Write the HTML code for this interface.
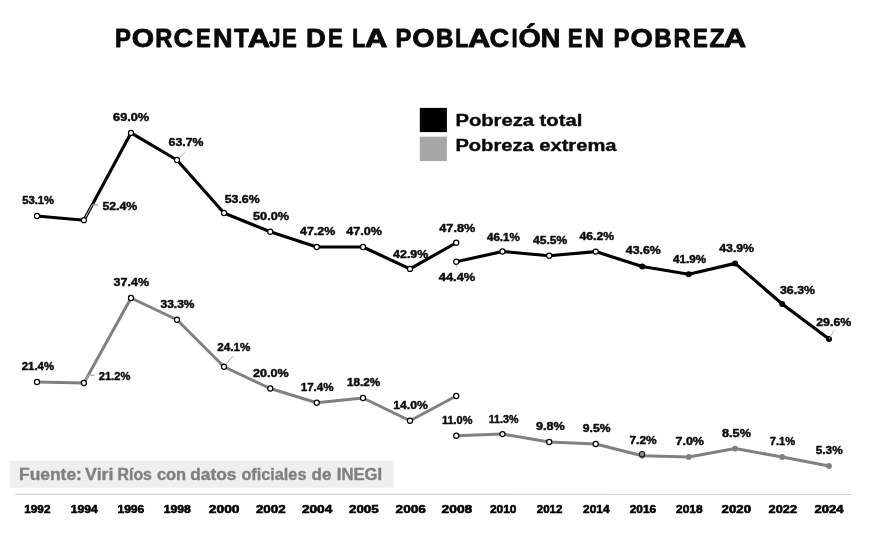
<!DOCTYPE html>
<html lang="es">
<head>
<meta charset="utf-8">
<title>Porcentaje de la población en pobreza</title>
<style>
html,body{margin:0;padding:0;background:#fff;}
body{width:874px;height:536px;overflow:hidden;font-family:"Liberation Sans",sans-serif;}
svg{display:block;will-change:transform;}
text{font-family:"Liberation Sans",sans-serif;font-weight:bold;stroke-linejoin:round;}
</style>
</head>
<body>
<svg width="874" height="536" viewBox="0 0 874 536">
<rect x="0" y="0" width="874" height="536" fill="#fff"/>
<rect x="419.8" y="107.9" width="27.1" height="24.2" fill="#000"/>
<rect x="419.8" y="136.7" width="27.1" height="24.4" fill="#a7a7a7"/>
<rect x="10.1" y="460.8" width="383.7" height="26.9" fill="#efefef"/>
<line x1="15" y1="494.4" x2="851.75" y2="494.5" stroke="#d4d4d4" stroke-width="1.2"/>
<polyline points="37,382 83.9,383 131,298 177,319.75 224,366.75 270.25,388.5 316.75,402.75 363,398 410,420.75 456.25,396" fill="none" stroke="#808080" stroke-width="3.0" stroke-linejoin="round" stroke-linecap="round"/>
<polyline points="456.25,435.75 502.5,434.1 549.25,442 595.75,444 642.25,455.75 688.75,456.9 735.1,448.6 782.25,457 829,466" fill="none" stroke="#808080" stroke-width="3.0" stroke-linejoin="round" stroke-linecap="round"/>
<polyline points="37,216 83.9,220.2 131,132.9 177,160 224,213 270.25,231.75 316.75,247 363,247 410,268.9 456.25,242.75" fill="none" stroke="#000" stroke-width="3.15" stroke-linejoin="round" stroke-linecap="round"/>
<polyline points="456.25,261.75 502.5,251.5 549.25,255.75 595.75,251.6 642.25,266.5 688.75,274.25 735.1,263.4 782.25,304 829,339" fill="none" stroke="#000" stroke-width="3.15" stroke-linejoin="round" stroke-linecap="round"/>
<polyline points="83.9,220.2 92.2,204.9 98,204.9" fill="none" stroke="#d8d8d8" stroke-width="0.9"/>
<line x1="93.6" y1="204.9" x2="98" y2="204.9" stroke="#8c8c8c" stroke-width="0.9"/>
<polyline points="83.9,383 88.3,375.2 94.5,375.2" fill="none" stroke="#c4c4c4" stroke-width="0.9"/>
<line x1="90" y1="375.2" x2="94.5" y2="375.2" stroke="#9a9a9a" stroke-width="0.9"/>
<line x1="185.5" y1="152" x2="177" y2="159.75" stroke="#a6a6a6" stroke-width="0.9"/>
<line x1="233" y1="356" x2="224" y2="366.75" stroke="#a6a6a6" stroke-width="0.9"/>
<circle cx="37" cy="382" r="2.55" fill="#fff" stroke="#000" stroke-width="1.2"/>
<circle cx="83.9" cy="383" r="2.55" fill="#fff" stroke="#000" stroke-width="1.2"/>
<circle cx="131" cy="298" r="2.55" fill="#fff" stroke="#000" stroke-width="1.2"/>
<circle cx="177" cy="319.75" r="2.55" fill="#fff" stroke="#000" stroke-width="1.2"/>
<circle cx="224" cy="366.75" r="2.55" fill="#fff" stroke="#000" stroke-width="1.2"/>
<circle cx="270.25" cy="388.5" r="2.55" fill="#fff" stroke="#000" stroke-width="1.2"/>
<circle cx="316.75" cy="402.75" r="2.55" fill="#fff" stroke="#000" stroke-width="1.2"/>
<circle cx="363" cy="398" r="2.55" fill="#fff" stroke="#000" stroke-width="1.2"/>
<circle cx="410" cy="420.75" r="2.55" fill="#fff" stroke="#000" stroke-width="1.2"/>
<circle cx="456.25" cy="396" r="2.55" fill="#fff" stroke="#000" stroke-width="1.2"/>
<circle cx="456.25" cy="435.75" r="2.55" fill="#fff" stroke="#000" stroke-width="1.2"/>
<circle cx="502.5" cy="434.1" r="2.55" fill="#fff" stroke="#000" stroke-width="1.2"/>
<circle cx="549.25" cy="442" r="2.55" fill="#fff" stroke="#000" stroke-width="1.2"/>
<circle cx="595.75" cy="444" r="2.55" fill="#fff" stroke="#000" stroke-width="1.2"/>
<circle cx="642.25" cy="455.75" r="2.9" fill="#808080"/>
<circle cx="688.75" cy="456.9" r="2.9" fill="#808080"/>
<circle cx="735.1" cy="448.6" r="2.9" fill="#808080"/>
<circle cx="782.25" cy="457" r="2.9" fill="#808080"/>
<circle cx="829" cy="466" r="2.9" fill="#808080"/>
<circle cx="642" cy="454.2" r="2.7" fill="#8c8c8c" stroke="#1a1a1a" stroke-width="1.1"/>
<circle cx="37" cy="216" r="2.55" fill="#fff" stroke="#000" stroke-width="1.2"/>
<circle cx="83.9" cy="220.2" r="2.55" fill="#fff" stroke="#000" stroke-width="1.2"/>
<circle cx="131" cy="132.9" r="2.55" fill="#fff" stroke="#000" stroke-width="1.2"/>
<circle cx="177" cy="160" r="2.55" fill="#fff" stroke="#000" stroke-width="1.2"/>
<circle cx="224" cy="213" r="2.55" fill="#fff" stroke="#000" stroke-width="1.2"/>
<circle cx="270.25" cy="231.75" r="2.55" fill="#fff" stroke="#000" stroke-width="1.2"/>
<circle cx="316.75" cy="247" r="2.55" fill="#fff" stroke="#000" stroke-width="1.2"/>
<circle cx="363" cy="247" r="2.55" fill="#fff" stroke="#000" stroke-width="1.2"/>
<circle cx="410" cy="268.9" r="2.55" fill="#fff" stroke="#000" stroke-width="1.2"/>
<circle cx="456.25" cy="242.75" r="2.55" fill="#fff" stroke="#000" stroke-width="1.2"/>
<circle cx="456.25" cy="261.75" r="2.55" fill="#fff" stroke="#000" stroke-width="1.2"/>
<circle cx="502.5" cy="251.5" r="2.55" fill="#fff" stroke="#000" stroke-width="1.2"/>
<circle cx="549.25" cy="255.75" r="2.55" fill="#fff" stroke="#000" stroke-width="1.2"/>
<circle cx="595.75" cy="251.6" r="2.55" fill="#fff" stroke="#000" stroke-width="1.2"/>
<circle cx="642.25" cy="266.5" r="3.0" fill="#000"/>
<circle cx="688.75" cy="274.25" r="3.0" fill="#000"/>
<circle cx="735.1" cy="263.4" r="3.0" fill="#000"/>
<circle cx="782.25" cy="304" r="3.0" fill="#000"/>
<circle cx="829" cy="339" r="3.0" fill="#000"/>
<line x1="456.5" y1="264.6" x2="456.9" y2="268.2" stroke="#b0b0b0" stroke-width="0.8"/>
<line x1="834" y1="330.2" x2="829.1" y2="339.2" stroke="#a6a6a6" stroke-width="0.9"/>
<text x="115.05" y="46.5" font-size="24.9" fill="#0a0a0a" stroke="#0a0a0a" stroke-width="0.8" textLength="15.94" lengthAdjust="spacingAndGlyphs">P</text>
<text x="131.71" y="46.5" font-size="24.9" fill="#0a0a0a" stroke="#0a0a0a" stroke-width="0.8" textLength="22.32" lengthAdjust="spacingAndGlyphs">O</text>
<text x="155.33" y="46.5" font-size="24.9" fill="#0a0a0a" stroke="#0a0a0a" stroke-width="0.8" textLength="17.13" lengthAdjust="spacingAndGlyphs">R</text>
<text x="173.58" y="46.5" font-size="24.9" fill="#0a0a0a" stroke="#0a0a0a" stroke-width="0.8" textLength="19.65" lengthAdjust="spacingAndGlyphs">C</text>
<text x="196.01" y="46.5" font-size="24.9" fill="#0a0a0a" stroke="#0a0a0a" stroke-width="0.8" textLength="14.79" lengthAdjust="spacingAndGlyphs">E</text>
<text x="213.06" y="46.5" font-size="24.9" fill="#0a0a0a" stroke="#0a0a0a" stroke-width="0.8" textLength="19.57" lengthAdjust="spacingAndGlyphs">N</text>
<text x="233.94" y="46.5" font-size="24.9" fill="#0a0a0a" stroke="#0a0a0a" stroke-width="0.8" textLength="14.78" lengthAdjust="spacingAndGlyphs">T</text>
<text x="247.89" y="46.5" font-size="24.9" fill="#0a0a0a" stroke="#0a0a0a" stroke-width="0.8" textLength="22.40" lengthAdjust="spacingAndGlyphs">A</text>
<text x="269.00" y="46.5" font-size="24.9" fill="#0a0a0a" stroke="#0a0a0a" stroke-width="0.8" textLength="11.40" lengthAdjust="spacingAndGlyphs">J</text>
<text x="282.11" y="46.5" font-size="24.9" fill="#0a0a0a" stroke="#0a0a0a" stroke-width="0.8" textLength="14.79" lengthAdjust="spacingAndGlyphs">E</text>
<text x="305.93" y="46.5" font-size="24.9" fill="#0a0a0a" stroke="#0a0a0a" stroke-width="0.8" textLength="19.70" lengthAdjust="spacingAndGlyphs">D</text>
<text x="328.01" y="46.5" font-size="24.9" fill="#0a0a0a" stroke="#0a0a0a" stroke-width="0.8" textLength="14.79" lengthAdjust="spacingAndGlyphs">E</text>
<text x="352.18" y="46.5" font-size="24.9" fill="#0a0a0a" stroke="#0a0a0a" stroke-width="0.8" textLength="13.06" lengthAdjust="spacingAndGlyphs">L</text>
<text x="365.04" y="46.5" font-size="24.9" fill="#0a0a0a" stroke="#0a0a0a" stroke-width="0.8" textLength="22.40" lengthAdjust="spacingAndGlyphs">A</text>
<text x="395.40" y="46.5" font-size="24.9" fill="#0a0a0a" stroke="#0a0a0a" stroke-width="0.8" textLength="15.94" lengthAdjust="spacingAndGlyphs">P</text>
<text x="412.16" y="46.5" font-size="24.9" fill="#0a0a0a" stroke="#0a0a0a" stroke-width="0.8" textLength="22.32" lengthAdjust="spacingAndGlyphs">O</text>
<text x="435.89" y="46.5" font-size="24.9" fill="#0a0a0a" stroke="#0a0a0a" stroke-width="0.8" textLength="17.42" lengthAdjust="spacingAndGlyphs">B</text>
<text x="455.28" y="46.5" font-size="24.9" fill="#0a0a0a" stroke="#0a0a0a" stroke-width="0.8" textLength="13.06" lengthAdjust="spacingAndGlyphs">L</text>
<text x="467.99" y="46.5" font-size="24.9" fill="#0a0a0a" stroke="#0a0a0a" stroke-width="0.8" textLength="22.40" lengthAdjust="spacingAndGlyphs">A</text>
<text x="489.53" y="46.5" font-size="24.9" fill="#0a0a0a" stroke="#0a0a0a" stroke-width="0.8" textLength="19.65" lengthAdjust="spacingAndGlyphs">C</text>
<text x="511.49" y="46.5" font-size="24.9" fill="#0a0a0a" stroke="#0a0a0a" stroke-width="0.8" textLength="6.15" lengthAdjust="spacingAndGlyphs">I</text>
<text x="518.41" y="46.5" font-size="24.9" fill="#0a0a0a" stroke="#0a0a0a" stroke-width="0.8" textLength="22.32" lengthAdjust="spacingAndGlyphs">Ó</text>
<text x="540.66" y="46.5" font-size="24.9" fill="#0a0a0a" stroke="#0a0a0a" stroke-width="0.8" textLength="19.57" lengthAdjust="spacingAndGlyphs">N</text>
<text x="567.86" y="46.5" font-size="24.9" fill="#0a0a0a" stroke="#0a0a0a" stroke-width="0.8" textLength="14.79" lengthAdjust="spacingAndGlyphs">E</text>
<text x="584.51" y="46.5" font-size="24.9" fill="#0a0a0a" stroke="#0a0a0a" stroke-width="0.8" textLength="19.57" lengthAdjust="spacingAndGlyphs">N</text>
<text x="613.55" y="46.5" font-size="24.9" fill="#0a0a0a" stroke="#0a0a0a" stroke-width="0.8" textLength="15.94" lengthAdjust="spacingAndGlyphs">P</text>
<text x="630.41" y="46.5" font-size="24.9" fill="#0a0a0a" stroke="#0a0a0a" stroke-width="0.8" textLength="22.32" lengthAdjust="spacingAndGlyphs">O</text>
<text x="654.29" y="46.5" font-size="24.9" fill="#0a0a0a" stroke="#0a0a0a" stroke-width="0.8" textLength="17.42" lengthAdjust="spacingAndGlyphs">B</text>
<text x="673.48" y="46.5" font-size="24.9" fill="#0a0a0a" stroke="#0a0a0a" stroke-width="0.8" textLength="17.13" lengthAdjust="spacingAndGlyphs">R</text>
<text x="693.06" y="46.5" font-size="24.9" fill="#0a0a0a" stroke="#0a0a0a" stroke-width="0.8" textLength="14.79" lengthAdjust="spacingAndGlyphs">E</text>
<text x="709.55" y="46.5" font-size="24.9" fill="#0a0a0a" stroke="#0a0a0a" stroke-width="0.8" textLength="15.17" lengthAdjust="spacingAndGlyphs">Z</text>
<text x="723.74" y="46.5" font-size="24.9" fill="#0a0a0a" stroke="#0a0a0a" stroke-width="0.8" textLength="22.40" lengthAdjust="spacingAndGlyphs">A</text>
<text x="455.42" y="125.8" font-size="17.2" fill="#0a0a0a" stroke="#0a0a0a" stroke-width="0.4" textLength="126.87" lengthAdjust="spacingAndGlyphs">Pobreza total</text>
<text x="455.42" y="151.3" font-size="17.2" fill="#0a0a0a" stroke="#0a0a0a" stroke-width="0.4" textLength="161.08" lengthAdjust="spacingAndGlyphs">Pobreza extrema</text>
<text x="19.08" y="479.9" font-size="16" fill="#808080" stroke="#808080" stroke-width="0.4" textLength="62.81" lengthAdjust="spacingAndGlyphs">Fuente:</text>
<text x="85.10" y="479.9" font-size="16" fill="#808080" stroke="#808080" stroke-width="0.4" textLength="28.33" lengthAdjust="spacingAndGlyphs">Viri</text>
<text x="117.56" y="479.9" font-size="16" fill="#808080" stroke="#808080" stroke-width="0.4" textLength="34.36" lengthAdjust="spacingAndGlyphs">Ríos</text>
<text x="156.94" y="479.9" font-size="16" fill="#808080" stroke="#808080" stroke-width="0.4" textLength="29.18" lengthAdjust="spacingAndGlyphs">con</text>
<text x="190.26" y="479.9" font-size="16" fill="#808080" stroke="#808080" stroke-width="0.4" textLength="46.10" lengthAdjust="spacingAndGlyphs">datos</text>
<text x="241.45" y="479.9" font-size="16" fill="#808080" stroke="#808080" stroke-width="0.4" textLength="64.99" lengthAdjust="spacingAndGlyphs">oficiales</text>
<text x="311.57" y="479.9" font-size="16" fill="#808080" stroke="#808080" stroke-width="0.4" textLength="19.88" lengthAdjust="spacingAndGlyphs">de</text>
<text x="336.82" y="479.9" font-size="16" fill="#808080" stroke="#808080" stroke-width="0.4" textLength="45.33" lengthAdjust="spacingAndGlyphs">INEGI</text>
<text x="22.15" y="203.7" font-size="11" fill="#0a0a0a" stroke="#0a0a0a" stroke-width="0.45" textLength="31.95" lengthAdjust="spacingAndGlyphs">53.1%</text>
<text x="102.45" y="209.7" font-size="11" fill="#0a0a0a" stroke="#0a0a0a" stroke-width="0.45" textLength="34.85" lengthAdjust="spacingAndGlyphs">52.4%</text>
<text x="113.05" y="120.9" font-size="11" fill="#0a0a0a" stroke="#0a0a0a" stroke-width="0.45" textLength="36.15" lengthAdjust="spacingAndGlyphs">69.0%</text>
<text x="168.55" y="145.9" font-size="11" fill="#0a0a0a" stroke="#0a0a0a" stroke-width="0.45" textLength="34.95" lengthAdjust="spacingAndGlyphs">63.7%</text>
<text x="224.75" y="202.75" font-size="11" fill="#0a0a0a" stroke="#0a0a0a" stroke-width="0.45" textLength="34.80" lengthAdjust="spacingAndGlyphs">53.6%</text>
<text x="253.00" y="219.75" font-size="11" fill="#0a0a0a" stroke="#0a0a0a" stroke-width="0.45" textLength="36.05" lengthAdjust="spacingAndGlyphs">50.0%</text>
<text x="300.03" y="235" font-size="11" fill="#0a0a0a" stroke="#0a0a0a" stroke-width="0.45" textLength="35.26" lengthAdjust="spacingAndGlyphs">47.2%</text>
<text x="346.29" y="235" font-size="11" fill="#0a0a0a" stroke="#0a0a0a" stroke-width="0.45" textLength="35.76" lengthAdjust="spacingAndGlyphs">47.0%</text>
<text x="393.13" y="258" font-size="11" fill="#0a0a0a" stroke="#0a0a0a" stroke-width="0.45" textLength="35.17" lengthAdjust="spacingAndGlyphs">42.9%</text>
<text x="439.29" y="232" font-size="11" fill="#0a0a0a" stroke="#0a0a0a" stroke-width="0.45" textLength="36.01" lengthAdjust="spacingAndGlyphs">47.8%</text>
<text x="438.79" y="280.75" font-size="11" fill="#0a0a0a" stroke="#0a0a0a" stroke-width="0.45" textLength="36.50" lengthAdjust="spacingAndGlyphs">44.4%</text>
<text x="487.01" y="240.75" font-size="11" fill="#0a0a0a" stroke="#0a0a0a" stroke-width="0.45" textLength="32.79" lengthAdjust="spacingAndGlyphs">46.1%</text>
<text x="533.02" y="244" font-size="11" fill="#0a0a0a" stroke="#0a0a0a" stroke-width="0.45" textLength="34.27" lengthAdjust="spacingAndGlyphs">45.5%</text>
<text x="579.53" y="240.4" font-size="11" fill="#0a0a0a" stroke="#0a0a0a" stroke-width="0.45" textLength="34.52" lengthAdjust="spacingAndGlyphs">46.2%</text>
<text x="625.78" y="253.75" font-size="11" fill="#0a0a0a" stroke="#0a0a0a" stroke-width="0.45" textLength="35.02" lengthAdjust="spacingAndGlyphs">43.6%</text>
<text x="673.01" y="263" font-size="11" fill="#0a0a0a" stroke="#0a0a0a" stroke-width="0.45" textLength="33.04" lengthAdjust="spacingAndGlyphs">41.9%</text>
<text x="719.28" y="252" font-size="11" fill="#0a0a0a" stroke="#0a0a0a" stroke-width="0.45" textLength="34.77" lengthAdjust="spacingAndGlyphs">43.9%</text>
<text x="780.00" y="294" font-size="11" fill="#0a0a0a" stroke="#0a0a0a" stroke-width="0.45" textLength="35.05" lengthAdjust="spacingAndGlyphs">36.3%</text>
<text x="816.25" y="326" font-size="11" fill="#0a0a0a" stroke="#0a0a0a" stroke-width="0.45" textLength="35.05" lengthAdjust="spacingAndGlyphs">29.6%</text>
<text x="21.75" y="370" font-size="11" fill="#0a0a0a" stroke="#0a0a0a" stroke-width="0.45" textLength="32.30" lengthAdjust="spacingAndGlyphs">21.4%</text>
<text x="98.75" y="379.75" font-size="11" fill="#0a0a0a" stroke="#0a0a0a" stroke-width="0.45" textLength="31.55" lengthAdjust="spacingAndGlyphs">21.2%</text>
<text x="113.50" y="285.75" font-size="11" fill="#0a0a0a" stroke="#0a0a0a" stroke-width="0.45" textLength="35.55" lengthAdjust="spacingAndGlyphs">37.4%</text>
<text x="160.50" y="308" font-size="11" fill="#0a0a0a" stroke="#0a0a0a" stroke-width="0.45" textLength="34.05" lengthAdjust="spacingAndGlyphs">33.3%</text>
<text x="217.25" y="351" font-size="11" fill="#0a0a0a" stroke="#0a0a0a" stroke-width="0.45" textLength="33.05" lengthAdjust="spacingAndGlyphs">24.1%</text>
<text x="253.00" y="376.75" font-size="11" fill="#0a0a0a" stroke="#0a0a0a" stroke-width="0.45" textLength="35.55" lengthAdjust="spacingAndGlyphs">20.0%</text>
<text x="300.74" y="390.5" font-size="11" fill="#0a0a0a" stroke="#0a0a0a" stroke-width="0.45" textLength="32.81" lengthAdjust="spacingAndGlyphs">17.4%</text>
<text x="346.98" y="385.5" font-size="11" fill="#0a0a0a" stroke="#0a0a0a" stroke-width="0.45" textLength="33.32" lengthAdjust="spacingAndGlyphs">18.2%</text>
<text x="393.22" y="409" font-size="11" fill="#0a0a0a" stroke="#0a0a0a" stroke-width="0.45" textLength="34.58" lengthAdjust="spacingAndGlyphs">14.0%</text>
<text x="442.00" y="423.75" font-size="11" fill="#0a0a0a" stroke="#0a0a0a" stroke-width="0.45" textLength="30.44" lengthAdjust="spacingAndGlyphs">11.0%</text>
<text x="488.76" y="422.75" font-size="11" fill="#0a0a0a" stroke="#0a0a0a" stroke-width="0.45" textLength="29.68" lengthAdjust="spacingAndGlyphs">11.3%</text>
<text x="536.00" y="430.25" font-size="11" fill="#0a0a0a" stroke="#0a0a0a" stroke-width="0.45" textLength="28.69" lengthAdjust="spacingAndGlyphs">9.8%</text>
<text x="582.75" y="432" font-size="11" fill="#0a0a0a" stroke="#0a0a0a" stroke-width="0.45" textLength="27.69" lengthAdjust="spacingAndGlyphs">9.5%</text>
<text x="629.48" y="444.25" font-size="11" fill="#0a0a0a" stroke="#0a0a0a" stroke-width="0.45" textLength="27.21" lengthAdjust="spacingAndGlyphs">7.2%</text>
<text x="675.47" y="445" font-size="11" fill="#0a0a0a" stroke="#0a0a0a" stroke-width="0.45" textLength="28.47" lengthAdjust="spacingAndGlyphs">7.0%</text>
<text x="722.00" y="437" font-size="11" fill="#0a0a0a" stroke="#0a0a0a" stroke-width="0.45" textLength="28.94" lengthAdjust="spacingAndGlyphs">8.5%</text>
<text x="769.75" y="445" font-size="11" fill="#0a0a0a" stroke="#0a0a0a" stroke-width="0.45" textLength="25.43" lengthAdjust="spacingAndGlyphs">7.1%</text>
<text x="815.75" y="453.75" font-size="11" fill="#0a0a0a" stroke="#0a0a0a" stroke-width="0.45" textLength="26.88" lengthAdjust="spacingAndGlyphs">5.3%</text>
<text x="24.35" y="513" font-size="11.7" fill="#000" stroke="#000" stroke-width="0.6" textLength="26.07" lengthAdjust="spacingAndGlyphs">1992</text>
<text x="70.84" y="513" font-size="11.7" fill="#000" stroke="#000" stroke-width="0.6" textLength="27.02" lengthAdjust="spacingAndGlyphs">1994</text>
<text x="117.44" y="513" font-size="11.7" fill="#000" stroke="#000" stroke-width="0.6" textLength="26.87" lengthAdjust="spacingAndGlyphs">1996</text>
<text x="163.74" y="513" font-size="11.7" fill="#000" stroke="#000" stroke-width="0.6" textLength="26.98" lengthAdjust="spacingAndGlyphs">1998</text>
<text x="208.80" y="513" font-size="11.7" fill="#000" stroke="#000" stroke-width="0.6" textLength="30.72" lengthAdjust="spacingAndGlyphs">2000</text>
<text x="255.90" y="513" font-size="11.7" fill="#000" stroke="#000" stroke-width="0.6" textLength="29.72" lengthAdjust="spacingAndGlyphs">2002</text>
<text x="301.90" y="513" font-size="11.7" fill="#000" stroke="#000" stroke-width="0.6" textLength="30.43" lengthAdjust="spacingAndGlyphs">2004</text>
<text x="349.00" y="513" font-size="11.7" fill="#000" stroke="#000" stroke-width="0.6" textLength="29.72" lengthAdjust="spacingAndGlyphs">2005</text>
<text x="395.60" y="513" font-size="11.7" fill="#000" stroke="#000" stroke-width="0.6" textLength="30.22" lengthAdjust="spacingAndGlyphs">2006</text>
<text x="441.60" y="513" font-size="11.7" fill="#000" stroke="#000" stroke-width="0.6" textLength="30.72" lengthAdjust="spacingAndGlyphs">2008</text>
<text x="490.00" y="513" font-size="11.7" fill="#000" stroke="#000" stroke-width="0.6" textLength="26.42" lengthAdjust="spacingAndGlyphs">2010</text>
<text x="536.80" y="513" font-size="11.7" fill="#000" stroke="#000" stroke-width="0.6" textLength="25.62" lengthAdjust="spacingAndGlyphs">2012</text>
<text x="583.10" y="513" font-size="11.7" fill="#000" stroke="#000" stroke-width="0.6" textLength="26.46" lengthAdjust="spacingAndGlyphs">2014</text>
<text x="629.70" y="513" font-size="11.7" fill="#000" stroke="#000" stroke-width="0.6" textLength="26.42" lengthAdjust="spacingAndGlyphs">2016</text>
<text x="676.10" y="513" font-size="11.7" fill="#000" stroke="#000" stroke-width="0.6" textLength="26.42" lengthAdjust="spacingAndGlyphs">2018</text>
<text x="721.60" y="513" font-size="11.7" fill="#000" stroke="#000" stroke-width="0.6" textLength="29.42" lengthAdjust="spacingAndGlyphs">2020</text>
<text x="768.60" y="513" font-size="11.7" fill="#000" stroke="#000" stroke-width="0.6" textLength="28.42" lengthAdjust="spacingAndGlyphs">2022</text>
<text x="814.40" y="513" font-size="11.7" fill="#000" stroke="#000" stroke-width="0.6" textLength="29.14" lengthAdjust="spacingAndGlyphs">2024</text>
</svg>
</body>
</html>
